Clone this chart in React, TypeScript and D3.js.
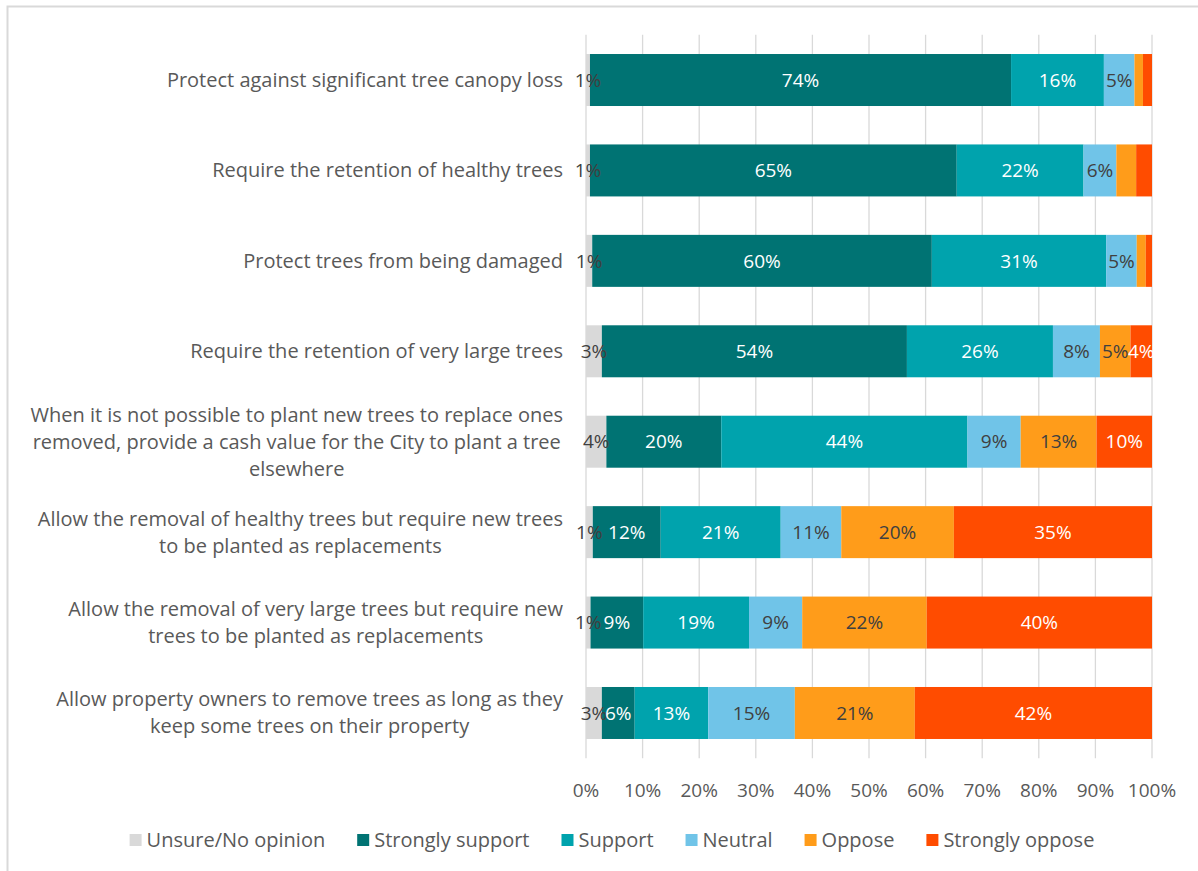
import React, { useEffect, useRef } from "react";
import * as d3 from "d3";

const categories: string[][] = [
  ["Protect against significant tree canopy loss"],
  ["Require the retention of healthy trees"],
  ["Protect trees from being damaged"],
  ["Require the retention of very large trees"],
  [
    "When it is not possible to plant new trees to replace ones",
    "removed, provide a cash value for the City to plant a tree",
    "elsewhere",
  ],
  ["Allow the removal of healthy trees but require new trees", "to be planted as replacements"],
  ["Allow the removal of very large trees but require new", "trees to be planted as replacements"],
  ["Allow property owners to remove trees as long as they", "keep some trees on their property"],
];

const seriesNames = ["Unsure/No opinion", "Strongly support", "Support", "Neutral", "Oppose", "Strongly oppose"];
const seriesColors = ["#d9d9d9", "#007373", "#00a3ad", "#70c4e8", "#ff9c1a", "#ff4c00"];
const labelColors = ["#404040", "#ffffff", "#ffffff", "#404040", "#404040", "#ffffff"];

const unsure = [0.7, 0.7, 1.1, 2.8, 3.6, 1.2, 0.8, 2.8];
const stronglySupport = [74.4, 64.8, 60.0, 53.9, 20.3, 12.0, 9.3, 5.8];
const support = [16.4, 22.4, 30.8, 25.8, 43.5, 21.2, 18.7, 13.0];
const neutral = [5.4, 5.8, 5.4, 8.3, 9.4, 10.7, 9.4, 15.3];
const oppose = [1.5, 3.5, 1.6, 5.4, 13.4, 19.9, 22.0, 21.2];
const stronglyOppose = [1.6, 2.8, 1.1, 3.8, 9.8, 35.0, 39.8, 41.9];

const seriesValues = [unsure, stronglySupport, support, neutral, oppose, stronglyOppose];
const xTicks = [0, 10, 20, 30, 40, 50, 60, 70, 80, 90, 100];

const W = 1198;
const H = 871;
const FONT = "'Open Sans', Lato, sans-serif";
const TEXT = "#595959";

export default function App() {
  const ref = useRef<SVGSVGElement>(null);

  useEffect(() => {
    const svg = d3.select(ref.current);
    svg.selectAll("*").remove();

    const left = 586, right = 1152, top = 34.8, bottom = 758.2;
    const x = d3.scaleLinear().domain([0, 100]).range([left, right]);
    const y = d3
      .scaleBand<number>()
      .domain(d3.range(categories.length))
      .range([top, bottom])
      .paddingInner(0.425)
      .paddingOuter(0.2125);

    svg.append("rect").attr("width", W).attr("height", H).attr("fill", "#fff");
    svg.append("path")
      .attr("d", `M7.5,${H} V6.5 H${W}`)
      .attr("fill", "none")
      .attr("stroke", "#d9d9d9")
      .attr("stroke-width", 2);

    svg.append("g")
      .selectAll("line")
      .data(xTicks)
      .join("line")
      .attr("x1", (d) => x(d))
      .attr("x2", (d) => x(d))
      .attr("y1", top)
      .attr("y2", bottom)
      .attr("stroke", "#d9d9d9")
      .attr("stroke-width", 1.3);

    svg.append("g")
      .selectAll("text")
      .data(xTicks)
      .join("text")
      .attr("x", (d) => x(d))
      .attr("y", 797)
      .attr("text-anchor", "middle")
      .attr("font-family", FONT)
      .attr("font-size", 19)
      .attr("fill", TEXT)
      .text((d) => `${d}%`);

    const rowsG = svg.append("g");
    categories.forEach((_, i) => {
      let acc = 0;
      seriesValues.forEach((vals, s) => {
        const v = vals[i];
        const x0 = x(acc);
        const x1 = x(acc + v);
        acc += v;
        rowsG.append("rect")
          .attr("x", x0)
          .attr("y", y(i)!)
          .attr("width", Math.max(0, x1 - x0))
          .attr("height", y.bandwidth())
          .attr("fill", seriesColors[s]);
      });
    });

    const labG = svg.append("g");
    categories.forEach((_, i) => {
      let acc = 0;
      seriesValues.forEach((vals, s) => {
        const v = vals[i];
        const cx = x(acc + v / 2);
        acc += v;
        if (s !== 0 && v < 3.7) return;
        labG.append("text")
          .attr("x", cx)
          .attr("y", y(i)! + y.bandwidth() / 2)
          .attr("dy", "0.35em")
          .attr("text-anchor", "middle")
          .attr("font-family", FONT)
          .attr("font-size", 19)
          .attr("fill", labelColors[s])
          .text(`${Math.round(v)}%`);
      });
    });

    const catG = svg.append("g");
    const lineH = 27;
    categories.forEach((lines, i) => {
      const cy = y(i)! + y.bandwidth() / 2;
      const texts = lines.map((ln, k) =>
        catG.append("text")
          .attr("y", cy + (k - (lines.length - 1) / 2) * lineH)
          .attr("dy", "0.35em")
          .attr("text-anchor", "middle")
          .attr("font-family", FONT)
          .attr("font-size", 20)
          .attr("fill", TEXT)
          .text(ln)
      );
      const widths = texts.map((t) => (t.node() as SVGTextElement).getComputedTextLength());
      const maxW = Math.max(...widths);
      const cx = 563 - maxW / 2;
      texts.forEach((t) => t.attr("x", cx));
    });

    const legG = svg.append("g");
    const items = seriesNames.map((name, s) => {
      const g = legG.append("g");
      g.append("rect").attr("x", 0).attr("y", -13).attr("width", 12).attr("height", 12).attr("fill", seriesColors[s]);
      const t = g.append("text")
        .attr("x", 17)
        .attr("y", 0)
        .attr("font-family", FONT)
        .attr("font-size", 20)
        .attr("fill", TEXT)
        .text(name);
      const w = 17 + (t.node() as SVGTextElement).getComputedTextLength();
      return { g, w };
    });
    const gap = 32;
    const total = d3.sum(items, (d) => d.w) + gap * (items.length - 1);
    let lx = 612 - total / 2;
    items.forEach((it) => {
      it.g.attr("transform", `translate(${lx},847)`);
      lx += it.w + gap;
    });
  }, []);

  return (
    <svg
      ref={ref}
      width={W}
      height={H}
      style={{ position: "absolute", left: 0, top: 0, display: "block" }}
    />
  );
}
